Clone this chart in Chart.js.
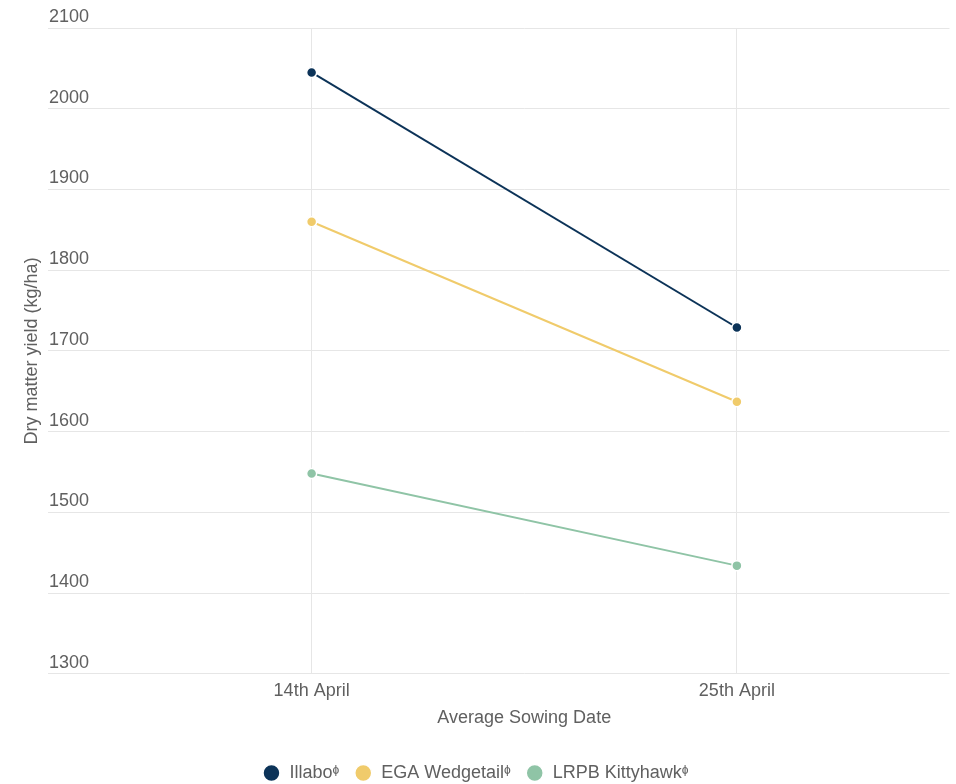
<!DOCTYPE html>
<html>
<head>
<meta charset="utf-8">
<script src="https://cdn.jsdelivr.net/npm/chart.js@4/dist/chart.umd.min.js"></script>
<style>
  html, body { margin: 0; padding: 0; background: #fff; }
  .chart-wrapper { width: 956px; height: 784px; }
</style>
</head>
<body>
<div class="chart-wrapper">
  <canvas id="chart-sowing"></canvas>
</div>
<script>
const sowingDates = ["14th April", "25th April"]
const illabo = [2045, 1729]
const wedgetail = [1860, 1637]
const kittyhawk = [1548, 1434]
const yTicks = [1300, 1400, 1500, 1600, 1700, 1800, 1900, 2000, 2100]

const textColor = "#606060"
const gridColor = "#e6e6e6"
const font = "'Liberation Sans', Arial, sans-serif"

function series(label, data, color) {
  return {
    label,
    data,
    borderColor: color,
    backgroundColor: color,
    borderWidth: 2,
    pointRadius: 5,
    pointHoverRadius: 5,
    pointBorderColor: "#fff",
    pointBorderWidth: 1.5,
    pointBackgroundColor: color,
    tension: 0
  }
}

new Chart(document.getElementById("chart-sowing"), {
  type: "line",
  data: {
    labels: sowingDates,
    datasets: [
      series("Illabo\u1DB2", illabo, "#0c3358"),
      series("EGA Wedgetail\u1DB2", wedgetail, "#f0cb6b"),
      series("LRPB Kittyhawk\u1DB2", kittyhawk, "#8fc4a6")
    ]
  },
  options: {
    responsive: true,
    maintainAspectRatio: false,
    animation: false,
    layout: { padding: { top: 28, right: 5, left: 0, bottom: -8 } },
    plugins: {
      tooltip: { enabled: false },
      legend: {
        position: "bottom",
        labels: {
          usePointStyle: true,
          pointStyle: "circle",
          boxWidth: 23,
          boxHeight: 12,
          padding: 15,
          color: textColor,
          font: { family: font, size: 18 }
        }
      }
    },
    scales: {
      x: {
        offset: true,
        grid: { color: gridColor, offset: false, drawTicks: false },
        border: { display: false },
        ticks: { color: textColor, padding: 6, font: { family: font, size: 18 } },
        title: {
          display: true,
          text: "Average Sowing Date",
          color: textColor,
          padding: { top: 0, bottom: 20 },
          font: { family: font, size: 18 }
        }
      },
      y: {
        min: 1300,
        max: 2100,
        afterBuildTicks: axis => { axis.ticks = yTicks.map(v => ({ value: v })) },
        afterFit: axis => { axis.width = 99 },
        grid: { color: gridColor, drawTicks: true, tickLength: 51, tickColor: gridColor },
        border: { display: false },
        ticks: {
          mirror: true,
          padding: -50,
          labelOffset: -11,
          color: textColor,
          font: { family: font, size: 18 },
          callback: v => String(v)
        },
        title: {
          display: true,
          text: "Dry matter yield (kg/ha)",
          color: textColor,
          padding: { top: 21, bottom: 0 },
          font: { family: font, size: 18 }
        }
      }
    }
  }
})
</script>
</body>
</html>
